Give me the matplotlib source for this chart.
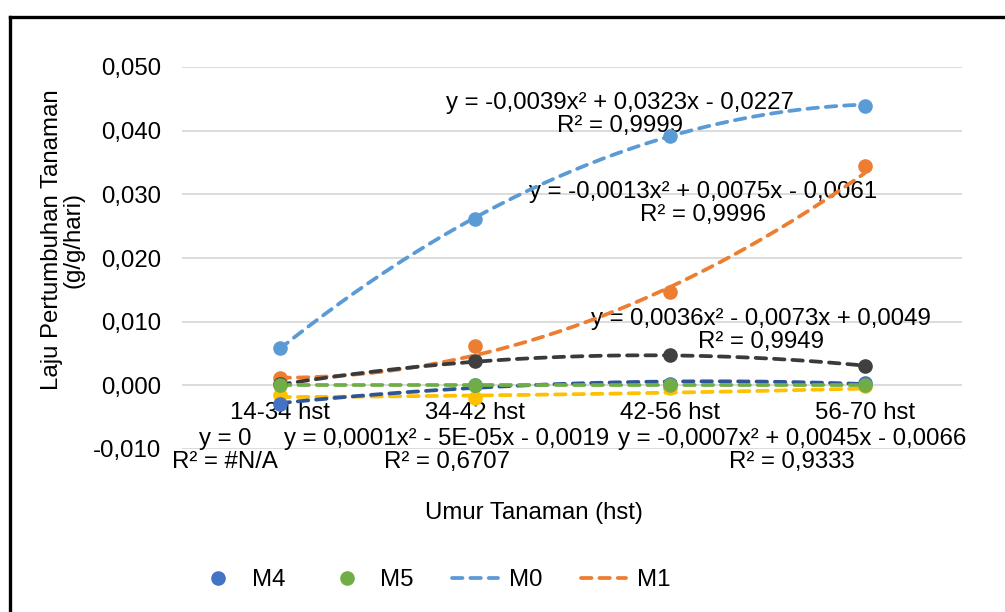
import numpy as np
import matplotlib
matplotlib.use("Agg")
import matplotlib.pyplot as plt
from matplotlib.lines import Line2D
from matplotlib.ticker import FuncFormatter, MultipleLocator

plt.rcParams['font.family'] = ['Liberation Sans', 'DejaVu Sans']
FS = 17.3

# ── data ──────────────────────────────────────────────
categories = ["14-34 hst", "34-42 hst", "42-56 hst", "56-70 hst"]
m0 = [0.0058, 0.0262, 0.0392, 0.0439]
m1 = [0.0011, 0.0061, 0.0146, 0.0344]
m2 = [0.0002, 0.0038, 0.0047, 0.0030]
m3 = [-0.0015, -0.0020, -0.0004, -0.0001]
m4 = [-0.0029, 0.0000, 0.0002, 0.0003]
m5 = [0.0, 0.0, 0.0, 0.0]

# trendline coefficients as printed on the chart (a x^2 + b x + c)
coef_m0 = [-0.0039, 0.0323, -0.0227]
coef_m1 = [0.0036, -0.0073, 0.0049]
coef_m2 = [-0.0013, 0.0075, -0.0061]
coef_m3 = [0.0001, -5e-05, -0.0019]
coef_m4 = [-0.0007, 0.0045, -0.0066]
coef_m5 = [0.0, 0.0, 0.0]

eq_m0 = "y = -0,0039x² + 0,0323x - 0,0227\nR² = 0,9999"
eq_m1 = "y = 0,0036x² - 0,0073x + 0,0049\nR² = 0,9949"
eq_m2 = "y = -0,0013x² + 0,0075x - 0,0061\nR² = 0,9996"
eq_m3 = "y = 0,0001x² - 5E-05x - 0,0019\nR² = 0,6707"
eq_m4 = "y = -0,0007x² + 0,0045x - 0,0066\nR² = 0,9333"
eq_m5 = "y = 0\nR² = #N/A"

# ── figure ────────────────────────────────────────────
fig = plt.figure(figsize=(10.05, 6.12), dpi=100)
ax = fig.add_axes([182 / 1005, 1 - 449 / 612, 780 / 1005, 382 / 612])

x = np.arange(1, len(categories) + 1)
xs = np.linspace(1, 4, 200)

series = [
    (m0, coef_m0, "#5B9BD5", "#5B9BD5", eq_m0, (2.746, 0.0426)),
    (m1, coef_m1, "#ED7D31", "#ED7D31", eq_m1, (3.469, 0.0086)),
    (m2, coef_m2, "#404040", "#3A3A3A", eq_m2, (3.172, 0.0285)),
    (m3, coef_m3, "#FFC000", "#FFC000", eq_m3, (1.859, -0.0102)),
    (m4, coef_m4, "#4472C4", "#2F5597", eq_m4, (3.628, -0.0102)),
    (m5, coef_m5, "#70AD47", "#70AD47", eq_m5, (0.72, -0.0102)),
]

LW = 2.7
dash = (2.8, 2.1)
for vals, coef, mcol, lcol, eq, pos in series:
    ax.plot(x, vals, 'o', color=mcol, ms=9.5, zorder=4, clip_on=False)
    ax.plot(xs, np.polyval(coef, xs), color=lcol, lw=LW, dashes=dash,
            dash_capstyle='round', zorder=3)
    ax.text(pos[0], pos[1], eq, ha='center', va='center', fontsize=FS,
            multialignment='center', linespacing=1.05, zorder=2)

ax.set_xlim(0.5, 4.5)
ax.set_ylim(-0.01, 0.05)
ax.yaxis.set_major_locator(MultipleLocator(0.01))
ax.yaxis.set_major_formatter(FuncFormatter(lambda v, p: f"{v:.3f}".replace('.', ',')))
ax.grid(axis='y', color='#D9D9D9', lw=1.3)
ax.set_axisbelow(True)
for s in ['top', 'right', 'left']:
    ax.spines[s].set_visible(False)
ax.spines['bottom'].set_position(('data', 0))
ax.spines['bottom'].set_color('none')
ax.set_xticks(x)
ax.set_xticklabels(categories)
ax.tick_params(axis='x', length=0, pad=12, labelsize=FS)
ax.tick_params(axis='y', length=0, pad=15, labelsize=FS)

fig.text(63 / 1005, 1 - 240 / 612, "Laju Pertumbuhan Tanaman\n(g/g/hari)",
         rotation=90, ha='center', va='center', fontsize=FS,
         multialignment='center', linespacing=1.0)
fig.text(534 / 1005, 1 - 513 / 612, "Umur Tanaman (hst)",
         ha='center', va='center', fontsize=FS)

handles = [
    Line2D([], [], ls='none', marker='o', color="#4472C4", ms=9.5),
    Line2D([], [], ls='none', marker='o', color="#70AD47", ms=9.5),
    Line2D([], [], color="#5B9BD5", lw=LW, dashes=dash, dash_capstyle='round'),
    Line2D([], [], color="#ED7D31", lw=LW, dashes=dash, dash_capstyle='round'),
]
fig.legend(handles, ["M4", "M5", "M0", "M1"], loc='center',
           bbox_to_anchor=(433 / 1005, 1 - 580 / 612), ncol=4, frameon=False,
           fontsize=FS, handlelength=1.9, handletextpad=0.45, columnspacing=1.6)

# chart area border (cropped at right and bottom)
fig.add_artist(Line2D([10 / 1005, 10 / 1005], [0, 1 - 17 / 612],
                      transform=fig.transFigure, color='black', lw=2.4))
fig.add_artist(Line2D([10 / 1005, 1], [1 - 17 / 612, 1 - 17 / 612],
                      transform=fig.transFigure, color='black', lw=2.4))

fig.savefig("out.png", dpi=100)
